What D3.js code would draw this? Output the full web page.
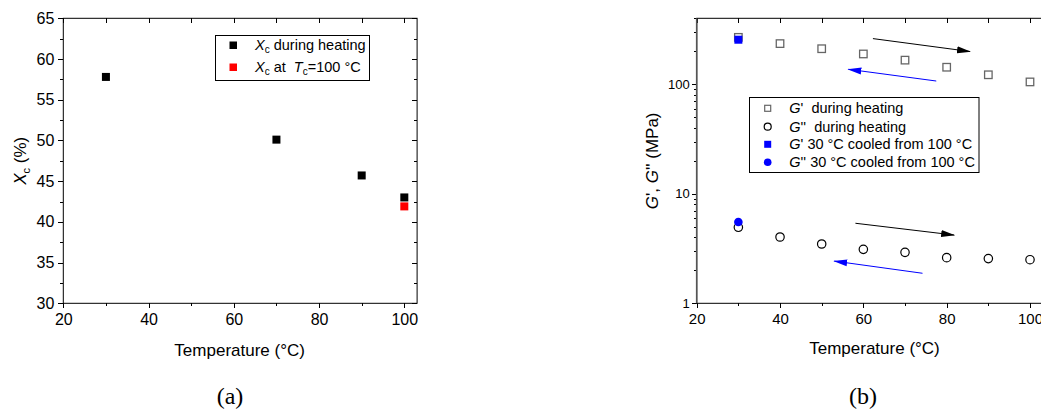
<!DOCTYPE html>
<html>
<head>
<meta charset="utf-8">
<script src="https://cdn.jsdelivr.net/npm/d3@7"></script>
<style>
  body { margin: 0; background: #fff; }
  svg text { font-family: "Liberation Sans", Arial, sans-serif; fill: #000; white-space: pre; }
  .caption { font-family: "Liberation Serif", "Times New Roman", serif; font-size: 24px; }
  .axis text { font-family: "Liberation Sans", Arial, sans-serif; }
  .axis path.domain { display: none; }
  .axis line { stroke: #000; shape-rendering: crispEdges; }
</style>
</head>
<body>
<svg id="fig" width="1041" height="416"></svg>
<script>
// ---- panel (a): crystallinity ----
var tempA = [30, 70, 90, 100];
var xcHeating = [57.8, 50.1, 45.7, 43.0];
var tempIso = [100];
var xcIso = [41.9];

// ---- panel (b): storage / loss modulus ----
var tempB = [30, 40, 50, 60, 70, 80, 90, 100];
var gPrime = [268, 235, 211, 189, 166, 143, 122, 105];
var gDouble = [4.94, 4.03, 3.48, 3.11, 2.92, 2.61, 2.56, 2.50];
var tempCooled = [30];
var gPrimeCooled = [255];
var gDoubleCooled = [5.53];

// arrows [x1, y1, x2, y2] in data units
var arrowsBlack = [[62.3, 261, 85.6, 199], [58.1, 5.38, 81.8, 4.2]];
var arrowsBlue = [[77.5, 107, 56.4, 137], [74.2, 1.88, 53, 2.43]];

// ticks
var xTicksMajor = [20, 40, 60, 80, 100];
var xTicksMinor = [30, 50, 70, 90];
var xTicksTop = [20, 30, 40, 50, 60, 70, 80, 90, 100];
var yTicksA = [30, 35, 40, 45, 50, 55, 60, 65];
var yTicksAMinor = [32.5, 37.5, 42.5, 47.5, 52.5, 57.5, 62.5];
var yTicksB = [1, 10, 100];
var yTicksBMinor = [2, 3, 4, 5, 6, 7, 8, 9, 20, 30, 40, 50, 60, 70, 80, 90, 200, 300, 400];

var svg = d3.select('#fig');

var defs = svg.append('defs');
[['arrBlack', '#000'], ['arrBlue', '#0000ff']].forEach(function(m) {
  defs.append('marker')
    .attr('id', m[0])
    .attr('markerUnits', 'userSpaceOnUse')
    .attr('viewBox', '0 -4 14 8')
    .attr('refX', 13).attr('refY', 0)
    .attr('markerWidth', 14).attr('markerHeight', 8)
    .attr('orient', 'auto')
    .append('path')
    .attr('d', 'M0,-3.5L14,0L0,3.5Z')
    .attr('fill', m[1]);
});

function addAxis(gen, tx, ty, fontSize) {
  var g = svg.append('g').attr('class', 'axis')
    .attr('transform', 'translate(' + tx + ',' + ty + ')')
    .call(gen);
  g.selectAll('text').attr('font-size', fontSize).attr('fill', '#000');
  return g;
}

// ================= (a) =================
var A = { left: 63.3, right: 417.1, top: 18.3, bottom: 303.3 };
var xA = d3.scaleLinear().domain([20, 103]).range([A.left, A.right]);
var yA = d3.scaleLinear().domain([30, 65]).range([A.bottom, A.top]);

addAxis(d3.axisBottom(xA).tickValues(xTicksMajor).tickSize(5).tickPadding(5), 0, A.bottom, '16px');
addAxis(d3.axisBottom(xA).tickValues(xTicksMinor).tickSize(3).tickFormat(''), 0, A.bottom, '16px');
addAxis(d3.axisTop(xA).tickValues(xTicksTop).tickSize(-5).tickFormat(''), 0, A.top, '16px');
addAxis(d3.axisLeft(yA).tickValues(yTicksA).tickSize(5).tickPadding(4), A.left, 0, '16px');
addAxis(d3.axisLeft(yA).tickValues(yTicksAMinor).tickSize(3).tickFormat(''), A.left, 0, '16px');
addAxis(d3.axisRight(yA).tickValues(yTicksA).tickSize(-5).tickFormat(''), A.right, 0, '16px');
addAxis(d3.axisRight(yA).tickValues(yTicksAMinor).tickSize(-3).tickFormat(''), A.right, 0, '16px');

svg.append('rect')
  .attr('x', A.left).attr('y', A.top)
  .attr('width', A.right - A.left).attr('height', A.bottom - A.top)
  .attr('fill', 'none').attr('stroke', '#000').attr('stroke-width', 1);

var sqA = 8;
svg.append('g').selectAll('rect')
  .data(tempA.map(function(t, i) { return [t, xcHeating[i]]; }))
  .enter().append('rect')
  .attr('x', function(d) { return xA(d[0]) - sqA / 2; })
  .attr('y', function(d) { return yA(d[1]) - sqA / 2; })
  .attr('width', sqA).attr('height', sqA)
  .attr('fill', '#000');

svg.append('g').selectAll('rect')
  .data(tempIso.map(function(t, i) { return [t, xcIso[i]]; }))
  .enter().append('rect')
  .attr('x', function(d) { return xA(d[0]) - sqA / 2; })
  .attr('y', function(d) { return yA(d[1]) - sqA / 2; })
  .attr('width', sqA).attr('height', sqA)
  .attr('fill', '#ff0000');

// axis titles (a)
svg.append('text')
  .attr('x', (A.left + 404) / 2 + 6).attr('y', 356)
  .attr('text-anchor', 'middle').attr('font-size', '17px')
  .text('Temperature (°C)');

var ytA = svg.append('text')
  .attr('transform', 'translate(26,' + ((A.top + A.bottom) / 2) + ') rotate(-90)')
  .attr('text-anchor', 'middle').attr('font-size', '17px');
ytA.append('tspan').attr('font-style', 'italic').text('X');
ytA.append('tspan').attr('font-size', '11px').attr('dy', 4).text('c');
ytA.append('tspan').attr('dy', -4).text(' (%)');

// legend (a)
var legA = svg.append('g');
legA.append('rect')
  .attr('x', 215.5).attr('y', 35.5).attr('width', 154).attr('height', 45)
  .attr('fill', '#fff').attr('stroke', '#000').attr('stroke-width', 1);
legA.append('rect').attr('x', 229.5).attr('y', 41.5).attr('width', 7.5).attr('height', 7.5).attr('fill', '#000');
legA.append('rect').attr('x', 229.5).attr('y', 63.5).attr('width', 7.5).attr('height', 7.5).attr('fill', '#ff0000');
var la1 = legA.append('text').attr('x', 255).attr('y', 50).attr('font-size', '14.5px');
la1.append('tspan').attr('font-style', 'italic').text('X');
la1.append('tspan').attr('font-size', '10px').attr('dy', 3).text('c');
la1.append('tspan').attr('dy', -3).text(' during heating');
var la2 = legA.append('text').attr('x', 255).attr('y', 72).attr('font-size', '14.5px');
la2.append('tspan').attr('font-style', 'italic').text('X');
la2.append('tspan').attr('font-size', '10px').attr('dy', 3).text('c');
la2.append('tspan').attr('dy', -3).text(' at  ');
la2.append('tspan').attr('font-style', 'italic').text('T');
la2.append('tspan').attr('font-size', '10px').attr('dy', 3).text('c');
la2.append('tspan').attr('dy', -3).text('=100 °C');

svg.append('text').attr('class', 'caption')
  .attr('x', 230).attr('y', 404).attr('text-anchor', 'middle').text('(a)');

// ================= (b) =================
var B = { left: 696.7, right: 1042.5, top: 18.3, bottom: 303.3 };
var xB = d3.scaleLinear().domain([20, 103]).range([B.left, B.right]);
var yB = d3.scaleLog().domain([1, 400]).range([B.bottom, B.top]);

addAxis(d3.axisBottom(xB).tickValues(xTicksMajor).tickSize(5).tickPadding(5), 0, B.bottom, '15px');
addAxis(d3.axisBottom(xB).tickValues(xTicksMinor).tickSize(3).tickFormat(''), 0, B.bottom, '15px');
addAxis(d3.axisTop(xB).tickValues(xTicksTop).tickSize(-5).tickFormat(''), 0, B.top, '15px');
addAxis(d3.axisLeft(yB).tickValues(yTicksB).tickSize(5).tickPadding(2).tickFormat(d3.format('d')), B.left, 0, '13px');
addAxis(d3.axisLeft(yB).tickValues(yTicksBMinor).tickSize(3).tickFormat(''), B.left, 0, '13px');

svg.append('rect')
  .attr('x', B.left).attr('y', B.top)
  .attr('width', B.right - B.left).attr('height', B.bottom - B.top)
  .attr('fill', 'none').attr('stroke', '#000').attr('stroke-width', 1);
svg.append('line')
  .attr('x1', B.left).attr('x2', B.left).attr('y1', B.top).attr('y2', B.bottom)
  .attr('stroke', '#555').attr('stroke-width', 1.6);

// arrows
svg.append('g').selectAll('line')
  .data(arrowsBlack).enter().append('line')
  .attr('x1', function(d) { return xB(d[0]); }).attr('y1', function(d) { return yB(d[1]); })
  .attr('x2', function(d) { return xB(d[2]); }).attr('y2', function(d) { return yB(d[3]); })
  .attr('stroke', '#000').attr('stroke-width', 1).attr('marker-end', 'url(#arrBlack)');
svg.append('g').selectAll('line')
  .data(arrowsBlue).enter().append('line')
  .attr('x1', function(d) { return xB(d[0]); }).attr('y1', function(d) { return yB(d[1]); })
  .attr('x2', function(d) { return xB(d[2]); }).attr('y2', function(d) { return yB(d[3]); })
  .attr('stroke', '#0000ff').attr('stroke-width', 1).attr('marker-end', 'url(#arrBlue)');

var sqB = 7.5;
svg.append('g').selectAll('rect')
  .data(tempB.map(function(t, i) { return [t, gPrime[i]]; }))
  .enter().append('rect')
  .attr('x', function(d) { return xB(d[0]) - sqB / 2; })
  .attr('y', function(d) { return yB(d[1]) - sqB / 2; })
  .attr('width', sqB).attr('height', sqB)
  .attr('fill', '#fff').attr('stroke', '#666').attr('stroke-width', 1.3);

svg.append('g').selectAll('circle')
  .data(tempB.map(function(t, i) { return [t, gDouble[i]]; }))
  .enter().append('circle')
  .attr('cx', function(d) { return xB(d[0]); })
  .attr('cy', function(d) { return yB(d[1]); })
  .attr('r', 4.2)
  .attr('fill', '#fff').attr('stroke', '#000').attr('stroke-width', 1.2);

svg.append('g').selectAll('rect')
  .data(tempCooled.map(function(t, i) { return [t, gPrimeCooled[i]]; }))
  .enter().append('rect')
  .attr('x', function(d) { return xB(d[0]) - 4; })
  .attr('y', function(d) { return yB(d[1]) - 4; })
  .attr('width', 8).attr('height', 8)
  .attr('fill', '#0000ff');

svg.append('g').selectAll('circle')
  .data(tempCooled.map(function(t, i) { return [t, gDoubleCooled[i]]; }))
  .enter().append('circle')
  .attr('cx', function(d) { return xB(d[0]); })
  .attr('cy', function(d) { return yB(d[1]); })
  .attr('r', 4.3)
  .attr('fill', '#0000ff');

// axis titles (b)
svg.append('text')
  .attr('x', 874.5).attr('y', 354)
  .attr('text-anchor', 'middle').attr('font-size', '17px')
  .text('Temperature (°C)');

var ytB = svg.append('text')
  .attr('transform', 'translate(658,' + ((B.top + B.bottom) / 2) + ') rotate(-90)')
  .attr('text-anchor', 'middle').attr('font-size', '17px');
ytB.append('tspan').attr('font-style', 'italic').text('G');
ytB.append('tspan').text("', ");
ytB.append('tspan').attr('font-style', 'italic').text('G');
ytB.append('tspan').text("'' (MPa)");

// legend (b)
var legB = svg.append('g');
legB.append('rect')
  .attr('x', 749.5).attr('y', 97.5).attr('width', 229.5).attr('height', 75)
  .attr('fill', '#fff').attr('stroke', '#000').attr('stroke-width', 1);
var rowsB = [108.3, 126.7, 144.3, 162.3];
var mx = 767.7;
legB.append('rect').attr('x', mx - 3).attr('y', rowsB[0] - 3).attr('width', 6).attr('height', 6)
  .attr('fill', '#fff').attr('stroke', '#666').attr('stroke-width', 1.2);
legB.append('circle').attr('cx', mx).attr('cy', rowsB[1]).attr('r', 3.5)
  .attr('fill', '#fff').attr('stroke', '#000').attr('stroke-width', 1.2);
legB.append('rect').attr('x', mx - 3.5).attr('y', rowsB[2] - 3.5).attr('width', 7).attr('height', 7)
  .attr('fill', '#0000ff');
legB.append('circle').attr('cx', mx).attr('cy', rowsB[3]).attr('r', 3.8)
  .attr('fill', '#0000ff');

var legTextB = [["'  during heating"], ["''  during heating"], ["' 30 °C cooled from 100 °C"], ["'' 30 °C cooled from 100 °C"]];
legTextB.forEach(function(t, i) {
  var tx = legB.append('text').attr('x', 789.3).attr('y', rowsB[i] + 5).attr('font-size', '14.5px');
  tx.append('tspan').attr('font-style', 'italic').text('G');
  tx.append('tspan').text(t[0]);
});

svg.append('text').attr('class', 'caption')
  .attr('x', 863).attr('y', 404).attr('text-anchor', 'middle').text('(b)');
</script>
</body>
</html>
